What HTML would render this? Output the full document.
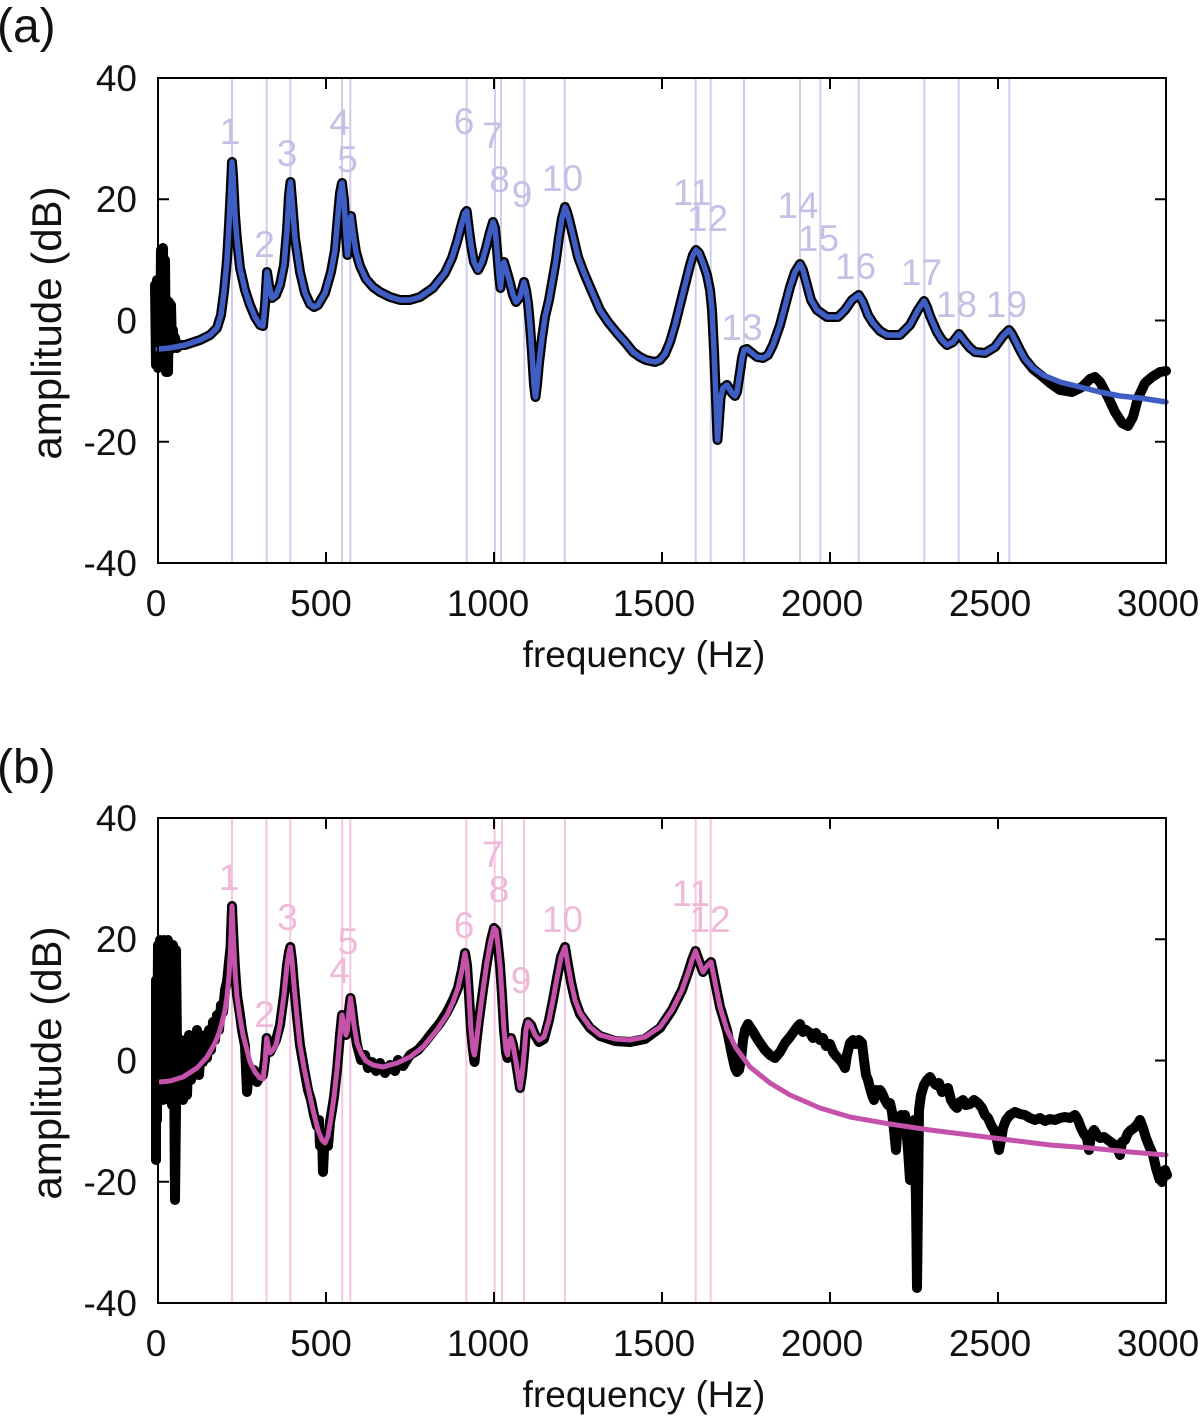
<!DOCTYPE html>
<html>
<head>
<meta charset="utf-8">
<style>
html,body{margin:0;padding:0;background:#fff;}
svg{display:block;}
text{font-family:"Liberation Sans",Arial,Helvetica,sans-serif;}
</style>
</head>
<body>
<svg width="1200" height="1421" viewBox="0 0 1200 1421" xmlns="http://www.w3.org/2000/svg">
<rect x="0" y="0" width="1200" height="1421" fill="#fff"/>

<!-- ================= PANEL A ================= -->
<g stroke="#cfcdea" stroke-width="2">
<line x1="232" y1="78" x2="232" y2="563"/>
<line x1="266.7" y1="78" x2="266.7" y2="563"/>
<line x1="290.3" y1="78" x2="290.3" y2="563"/>
<line x1="342" y1="78" x2="342" y2="563"/>
<line x1="350.3" y1="78" x2="350.3" y2="563"/>
<line x1="466.7" y1="78" x2="466.7" y2="563"/>
<line x1="495" y1="78" x2="495" y2="563"/>
<line x1="501" y1="78" x2="501" y2="563"/>
<line x1="524.3" y1="78" x2="524.3" y2="563"/>
<line x1="564.7" y1="78" x2="564.7" y2="563"/>
<line x1="695.7" y1="78" x2="695.7" y2="563"/>
<line x1="710.7" y1="78" x2="710.7" y2="563"/>
<line x1="744" y1="78" x2="744" y2="563"/>
<line x1="800" y1="78" x2="800" y2="563"/>
<line x1="820.3" y1="78" x2="820.3" y2="563"/>
<line x1="858.7" y1="78" x2="858.7" y2="563"/>
<line x1="924.3" y1="78" x2="924.3" y2="563"/>
<line x1="958.7" y1="78" x2="958.7" y2="563"/>
<line x1="1009.3" y1="78" x2="1009.3" y2="563"/>
</g>
<g fill="#c3c1e6" font-size="37" text-anchor="middle">
<text x="230" y="144">1</text>
<text x="264.5" y="257">2</text>
<text x="287" y="166">3</text>
<text x="339.5" y="135">4</text>
<text x="347.5" y="172">5</text>
<text x="464" y="134">6</text>
<text x="492.5" y="148">7</text>
<text x="499.5" y="192">8</text>
<text x="522" y="207">9</text>
<text x="562.5" y="191">10</text>
<text x="692" y="205">11</text>
<text x="707.5" y="231">12</text>
<text x="742" y="340">13</text>
<text x="798" y="218">14</text>
<text x="818.5" y="251">15</text>
<text x="855.5" y="279">16</text>
<text x="921.5" y="285">17</text>
<text x="956.5" y="317">18</text>
<text x="1006.5" y="317">19</text>
</g>

<polyline fill="none" stroke="#000" stroke-width="10" stroke-linejoin="round" stroke-linecap="round" points="155,285 156,365 157,280 158,368 159,290 160,360 161,250 162,365 163,248 164,362 165,260 166,372 167,300 168,372 169,302 170,350 171,305 172,345 173,330 174,348 175,338 177,348 180,345 185,345 200,340 210,335 217,328 221,315 224,292 227,260 229,225 231,185 232,162 233,175 235,215 237,240 240,268 245,290 250,305 255,317 260,325 263,326 265,305 267,272 269,285 272,298 276,295 280,285 284,265 287,230 289,195 290.5,182 292,200 295,238 300,272 305,293 310,304 314,307 318,305 325,293 331,272 335,250 338,215 340,193 342,183 344,200 346,235 347.5,255 349,235 351,216 353,232 356,252 360,266 366,279 373,287 380,292 390,297 400,300 410,300 420,297 433,288 445,273 452,258 457,242 462,223 465,213 466.7,211 468,222 471,245 474,262 478,270 482,262 486,248 490,232 493,222 495,228 497,250 499,275 500.5,288 502,272 504,262 507,272 510,283 513,295 516,302 520,297 524,282 526,290 528,303 530,325 532,353 534,385 535.5,397 537,385 539,363 542,338 545,317 549,300 552,283 556,260 559,237 562,218 565,207 567,212 570,223 574,240 578,257 584,273 590,287 600,310 608,322 617,333 625,342 633,352 640,357 646,360 655,362 660,360 665,354 670,342 675,325 680,305 685,285 690,265 693,255 696,250 699,253 703,263 707,275 710,290 712,310 714,350 716,400 717.5,440 719,420 720.5,398 723,388 727,385 732,393 735,396 737,392 740,372 742,358 744,350 747,349 752,353 757,357 763,358 768,355 773,345 780,325 785,306 790,287 795,272 800,264 803,270 807,285 811,300 817,310 827,317 838,317 845,310 852,300 858.7,295 863,302 868,315 873,323 880,331 887,335 900,335 910,325 918,310 924,301 927,307 930,316 937,332 942,340 947,345 953,342 959,334 962,338 965,342 970,348 975,352 985,353 995,347 1003,336 1009,330 1012,334 1015,340 1020,350 1025,359 1033,369 1043,377 1050,383 1060,390 1072,392 1082,387 1090,379 1095,377 1100,382 1108,397 1115,412 1122,423 1128,426 1133,417 1138,398 1145,383 1152,377 1160,372 1166,371"/>

<polyline fill="none" stroke="#3e5ec4" stroke-width="5.5" stroke-linejoin="round" stroke-linecap="round" points="158,349 170,348 185,345 200,340 210,335 217,328 221,315 224,292 227,260 229,225 231,185 232,162 233,175 235,215 237,240 240,268 245,290 250,305 255,317 260,325 263,326 265,305 267,272 269,285 272,298 276,295 280,285 284,265 287,230 289,195 290.5,182 292,200 295,238 300,272 305,293 310,304 314,307 318,305 325,293 331,272 335,250 338,215 340,193 342,183 344,200 346,235 347.5,255 349,235 351,216 353,232 356,252 360,266 366,279 373,287 380,292 390,297 400,300 410,300 420,297 433,288 445,273 452,258 457,242 462,223 465,213 466.7,211 468,222 471,245 474,262 478,270 482,262 486,248 490,232 493,222 495,228 497,250 499,275 500.5,288 502,272 504,262 507,272 510,283 513,295 516,302 520,297 524,282 526,290 528,303 530,325 532,353 534,385 535.5,397 537,385 539,363 542,338 545,317 549,300 552,283 556,260 559,237 562,218 565,207 567,212 570,223 574,240 578,257 584,273 590,287 600,310 608,322 617,333 625,342 633,352 640,357 646,360 655,362 660,360 665,354 670,342 675,325 680,305 685,285 690,265 693,255 696,250 699,253 703,263 707,275 710,290 712,310 714,350 716,400 717.5,440 719,420 720.5,398 723,388 727,385 732,393 735,396 737,392 740,372 742,358 744,350 747,349 752,353 757,357 763,358 768,355 773,345 780,325 785,306 790,287 795,272 800,264 803,270 807,285 811,300 817,310 827,317 838,317 845,310 852,300 858.7,295 863,302 868,315 873,323 880,331 887,335 900,335 910,325 918,310 924,301 927,307 930,316 937,332 942,340 947,345 953,342 959,334 962,338 965,342 970,348 975,352 985,353 995,347 1003,336 1009,330 1012,334 1015,340 1020,350 1025,359 1033,368 1043,375 1060,382 1080,387 1100,392 1120,396 1140,398 1166,402"/>

<!-- axes A -->
<g stroke="#000" stroke-width="2" fill="none">
<rect x="158" y="78" width="1008" height="485"/>
<path d="M326,563v-11M494,563v-11M662,563v-11M830,563v-11M998,563v-11M326,78v11M494,78v11M662,78v11M830,78v11M998,78v11M158,199.25h11M158,320.5h11M158,441.75h11M1166,199.25h-11M1166,320.5h-11M1166,441.75h-11"/>
</g>
<g fill="#111" font-size="37">
<g text-anchor="end">
<text x="137" y="91">40</text>
<text x="137" y="212">20</text>
<text x="137" y="333.5">0</text>
<text x="137" y="455">-20</text>
<text x="137" y="576">-40</text>
</g>
<g text-anchor="middle">
<text x="156" y="616">0</text>
<text x="321" y="616">500</text>
<text x="488" y="616">1000</text>
<text x="654" y="616">1500</text>
<text x="822" y="616">2000</text>
<text x="990" y="616">2500</text>
<text x="1158" y="616">3000</text>
<text x="644" y="667">frequency (Hz)</text>
</g>
<text x="0" y="0" font-size="42" text-anchor="middle" transform="translate(61,323) rotate(-90)">amplitude (dB)</text>
<text x="-3" y="42" font-size="48">(a)</text>
</g>

<!-- ================= PANEL B ================= -->
<g stroke="#f4c7e0" stroke-width="2">
<line x1="232" y1="818" x2="232" y2="1303"/>
<line x1="266.5" y1="818" x2="266.5" y2="1303"/>
<line x1="290.3" y1="818" x2="290.3" y2="1303"/>
<line x1="342.2" y1="818" x2="342.2" y2="1303"/>
<line x1="350.3" y1="818" x2="350.3" y2="1303"/>
<line x1="466.3" y1="818" x2="466.3" y2="1303"/>
<line x1="494.7" y1="818" x2="494.7" y2="1303"/>
<line x1="502" y1="818" x2="502" y2="1303"/>
<line x1="524" y1="818" x2="524" y2="1303"/>
<line x1="565" y1="818" x2="565" y2="1303"/>
<line x1="695.7" y1="818" x2="695.7" y2="1303"/>
<line x1="710.7" y1="818" x2="710.7" y2="1303"/>
</g>
<g fill="#efb9d8" font-size="37" text-anchor="middle">
<text x="229" y="890">1</text>
<text x="264.5" y="1027">2</text>
<text x="287.5" y="930">3</text>
<text x="339.5" y="983">4</text>
<text x="348" y="954">5</text>
<text x="464" y="938">6</text>
<text x="492.5" y="867">7</text>
<text x="499" y="902">8</text>
<text x="521" y="993">9</text>
<text x="562.5" y="932">10</text>
<text x="691" y="906">11</text>
<text x="710" y="932">12</text>
</g>

<polyline fill="none" stroke="#000" stroke-width="10" stroke-linejoin="round" stroke-linecap="round" points="156,1160 156,980 157,1120 158,945 159,1100 160,940 161,1080 162,942 163,1100 164,940 165,1090 166,945 167,1080 168,940 169,1100 170,950 171,1060 172,1105 173,945 174,1050 175,1200 176,1110 176,950 177,1045 179,1075 181,1040 183,1100 185,1050 187,1095 189,1035 191,1080 193,1050 195,1070 197,1030 199,1075 201,1045 203,1062 205,1035 207,1058 209,1030 211,1050 213,1022 215,1040 217,1015 219,1030 221,1005 223,1012 225,990 227,982 229,962 230.5,948 232,906 233.5,940 235,968 237,995 240,1015 242,1030 245,1046 247,1092 249,1068 251,1078 254,1070 257,1082 260,1076 263,1075 265,1060 266.7,1038 268,1045 270,1052 273,1046 276,1040 280,1025 284,995 287,965 289,952 290.3,947 292,960 294,985 297,1017 300,1045 304,1068 308,1090 311,1100 314,1115 317,1126 319,1120 320,1146 322,1135 323,1172 324,1150 326,1142 328,1146 330,1122 332,1110 334,1097 337,1070 340,1035 342,1015 344,1025 346,1035 347.5,1030 349,1010 350.5,998 352,1008 354,1025 357,1045 361,1060 365,1055 368,1068 372,1062 376,1071 380,1063 385,1073 390,1065 395,1071 398,1060 403,1066 410,1055 418,1050 425,1042 432,1033 440,1023 447,1012 453,1000 458,988 462,970 465,953 467,965 469,995 471,1030 473,1050 474.5,1062 476,1045 479,1020 483,990 487,962 491,940 494,928 496,930 498,945 500,965 502,995 504,1030 506,1052 507.5,1058 509,1042 511,1038 513,1045 516,1062 518,1075 520,1088 522,1075 524,1055 526,1030 528,1022 531,1025 535,1035 539,1042 544,1039 549,1020 553,1000 557,978 561,957 565,947 568,965 571,982 575,1000 580,1014 590,1028 600,1036 615,1041 630,1042 645,1039 660,1028 672,1010 682,990 688,973 692,960 695.5,951 699,961 703,972 707,966 711,962 714,977 717,992 720,1007 727,1030 732,1055 735,1068 737,1072 739,1070 741,1060 743,1040 745,1030 748,1024 752,1030 758,1040 765,1050 770,1055 775,1058 780,1052 785,1043 790,1037 795,1030 798,1026 800,1024 803,1032 806,1030 810,1033 813,1038 816,1033 820,1040 823,1038 826,1046 830,1044 833,1052 836,1056 840,1060 843,1064 845,1068 847,1055 850,1043 853,1040 856,1044 859,1040 862,1043 864,1060 866,1075 868,1080 870,1088 872,1095 874,1100 876,1090 878,1095 880,1090 882,1093 885,1100 888,1105 890,1103 892,1112 894,1130 896,1150 898,1120 901,1115 903,1125 905,1115 908,1150 910,1180 912,1150 914,1120 916,1200 917,1288 918,1200 919,1110 921,1095 924,1085 927,1080 930,1077 933,1082 936,1085 939,1083 942,1092 945,1090 948,1088 951,1100 954,1105 957,1108 960,1102 963,1100 966,1105 970,1104 974,1100 978,1103 982,1108 985,1115 988,1118 991,1125 994,1130 997,1140 999,1150 1001,1140 1003,1128 1006,1120 1010,1115 1015,1112 1020,1114 1025,1115 1030,1118 1035,1120 1040,1118 1045,1121 1050,1119 1055,1120 1060,1118 1065,1117 1070,1118 1075,1115 1078,1120 1081,1128 1084,1134 1087,1138 1089,1150 1091,1135 1094,1130 1097,1135 1100,1138 1104,1137 1108,1140 1112,1143 1115,1145 1118,1150 1120,1155 1122,1142 1125,1140 1128,1133 1131,1130 1134,1128 1137,1125 1140,1120 1143,1128 1146,1138 1150,1148 1153,1155 1156,1168 1159,1178 1162,1182 1165,1170 1167,1175"/>

<polyline fill="none" stroke="#c452ab" stroke-width="5" stroke-linejoin="round" stroke-linecap="round" points="160,1082 170,1081 183,1077 197,1068 207,1057 215,1043 219,1033 222,1023 225,1010 227,997 229,975 230.5,950 232,906 233.5,940 235,970 237,997 240,1018 243,1035 247,1050 250,1062 255,1072 260,1078 263,1079 265,1063 266.7,1038 268,1045 270,1053 273,1050 276,1045 280,1025 284,995 287,965 289,952 290.3,947 292,960 294,985 297,1017 300,1045 304,1068 308,1087 313,1110 318,1130 322,1140 325,1143 328,1136 331,1118 334,1097 337,1070 340,1035 342,1015 344,1025 346,1035 347.5,1030 349,1010 350.5,998 352,1008 354,1025 357,1043 361,1053 366,1061 373,1065 383,1067 397,1063 410,1057 423,1047 437,1030 447,1015 453,1002 458,988 462,970 465,953 467,965 469,995 471,1030 473,1050 474.5,1055 476,1045 479,1020 483,990 487,962 491,940 494,928 496,930 498,945 500,965 502,995 504,1030 506,1050 507.5,1055 509,1042 511,1038 513,1045 516,1062 518,1075 520,1088 522,1075 524,1055 526,1030 528,1022 531,1025 535,1035 539,1040 544,1037 549,1020 553,1000 557,978 561,957 565,947 568,965 571,982 575,1000 580,1013 590,1027 600,1035 615,1039 630,1040 645,1037 660,1027 672,1010 682,990 688,973 692,960 695.5,951 699,961 703,972 707,966 711,962 714,977 717,992 720,1007 727,1030 736,1048 750,1067 770,1083 790,1095 820,1108 850,1117 890,1124 930,1130 970,1135 1010,1140 1050,1145 1090,1148 1130,1152 1166,1155"/>

<!-- axes B -->
<g stroke="#000" stroke-width="2" fill="none">
<rect x="158" y="818" width="1008" height="485"/>
<path d="M326,1303v-11M494,1303v-11M662,1303v-11M830,1303v-11M998,1303v-11M326,818v11M494,818v11M662,818v11M830,818v11M998,818v11M158,939.25h11M158,1060.5h11M158,1181.75h11M1166,939.25h-11M1166,1060.5h-11M1166,1181.75h-11"/>
</g>
<g fill="#111" font-size="37">
<g text-anchor="end">
<text x="137" y="831">40</text>
<text x="137" y="952">20</text>
<text x="137" y="1073.5">0</text>
<text x="137" y="1195">-20</text>
<text x="137" y="1316">-40</text>
</g>
<g text-anchor="middle">
<text x="156" y="1356">0</text>
<text x="321" y="1356">500</text>
<text x="488" y="1356">1000</text>
<text x="654" y="1356">1500</text>
<text x="822" y="1356">2000</text>
<text x="990" y="1356">2500</text>
<text x="1158" y="1356">3000</text>
<text x="644" y="1407">frequency (Hz)</text>
</g>
<text x="0" y="0" font-size="42" text-anchor="middle" transform="translate(61,1063) rotate(-90)">amplitude (dB)</text>
<text x="-3" y="783" font-size="48">(b)</text>
</g>
</svg>
</body>
</html>
